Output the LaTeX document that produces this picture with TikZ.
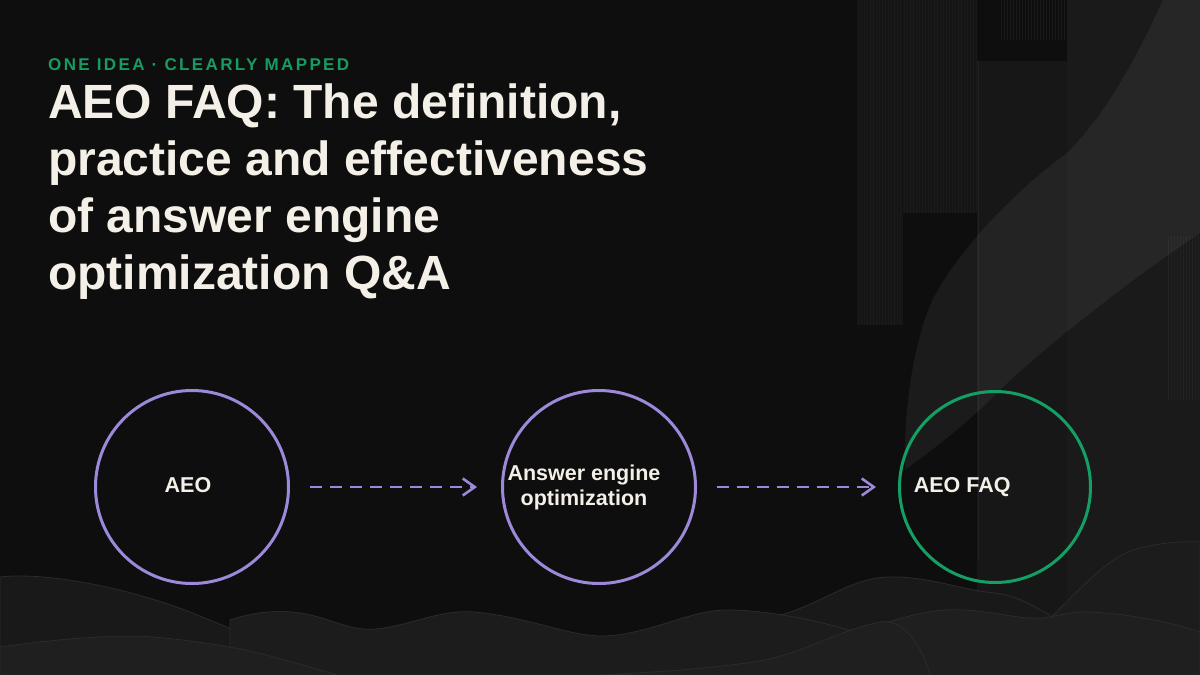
\documentclass[tikz,border=0pt]{standalone}
\usepackage{fontspec}
\setmainfont{Liberation Sans}
\usetikzlibrary{arrows.meta}
\definecolor{bgc}{HTML}{0E0E0E}
\definecolor{cream}{HTML}{F4F0E8}
\definecolor{kgreen}{HTML}{169C63}
\definecolor{cgreen}{HTML}{14A064}
\definecolor{purp}{HTML}{9D89DA}
\definecolor{hillA}{HTML}{191919}
\definecolor{hillB}{HTML}{1C1C1C}
\definecolor{hillC}{HTML}{1F1F1F}
\definecolor{hedge}{HTML}{2B2B2B}
\definecolor{stripeC}{HTML}{1A1A1A}
\tikzset{
  ring/.style={circle, draw=purp, line width=3pt, minimum size=193pt, inner sep=0pt},
  ringg/.style={circle, draw=cgreen, line width=3pt, minimum size=191pt, inner sep=0pt},
  clabel/.style={text=cream, font=\bfseries\fontsize{21.5}{25}\selectfont, inner sep=0pt},
  flow/.style={draw=purp, line width=2.8pt, dash pattern=on 12pt off 8pt, -{Straight Barb[length=12pt,width=17pt,line width=2.6pt]}},
  hilledge/.style={draw=hedge, line width=0.8pt},
  titlefont/.style={text=cream, font=\bfseries\fontsize{48}{57}\selectfont, inner sep=0pt, anchor=base west},
}
\begin{document}
\begin{tikzpicture}[x=1pt,y=-1pt]
\useasboundingbox (0,0) rectangle (1200,675);
\fill[bgc] (0,0) rectangle (1200,675);
% right decoration
\fill[fill=stripeC!60!bgc] (857,0) rectangle (903,325);
\fill[fill=stripeC!60!bgc] (903,0) rectangle (977,213);
\foreach \x in {858,861,...,902} \draw[stripeC, line width=0.5pt] (\x,0) -- (\x,325);
\foreach \x in {904,907,...,976} \draw[stripeC, line width=0.5pt] (\x,0) -- (\x,213);
\foreach \x in {1001,1004,...,1065} \draw[stripeC, line width=0.5pt] (\x,0) -- (\x,40);
\fill[fill=stripeC!75!bgc] (977,61) rectangle (1067,675);
\draw[hedge!70!bgc, line width=0.6pt] (978,61) -- (978,560);
\fill[fill=stripeC] (1067,0) rectangle (1200,675);
\fill[fill=white, fill opacity=0.055] (1163,0) -- (1200,0) -- (1200,233)
  .. controls (1130,280) and (1040,350) .. (995,395)
  .. controls (960,430) and (925,455) .. (905,470)
  .. controls (903,420) and (912,340) .. (935,295)
  .. controls (960,250) and (1010,195) .. (1067,153)
  .. controls (1110,110) and (1140,50) .. (1163,0) -- cycle;
\foreach \x in {1168,1171,...,1198} \draw[white, line width=0.5pt, opacity=0.04] (\x,236) -- (\x,400);
% hills (back to front)
\filldraw[fill=hillA, hilledge] (0,577) .. controls (40,572) and (120,585) .. (190,612)
  .. controls (260,640) and (300,660) .. (344,675) -- (0,675) -- cycle;
\filldraw[fill=hillA, hilledge] (780,675) -- (780,615) .. controls (820,605) and (850,578) .. (888,577)
  .. controls (930,576) and (960,590) .. (995,593) .. controls (1020,596) and (1035,608) .. (1050,615) -- (1050,675) -- cycle;
\filldraw[fill=hillB, hilledge] (1040,675) -- (1050,618) .. controls (1080,590) and (1105,560) .. (1133,550)
  .. controls (1160,542) and (1185,541) .. (1200,542) -- (1200,675) -- cycle;
\filldraw[fill=hillB, hilledge] (230,675) -- (230,620) .. controls (260,610) and (285,610) .. (306,614)
  .. controls (335,620) and (350,631) .. (375,629) .. controls (410,626) and (440,609) .. (474,612)
  .. controls (530,617) and (570,637) .. (605,636) .. controls (650,634) and (690,610) .. (727,610)
  .. controls (770,610) and (830,622) .. (880,640) -- (880,675) -- cycle;
\filldraw[fill=hillC, hilledge] (850,675) -- (865,630) .. controls (900,618) and (930,608) .. (964,610)
  .. controls (1000,612) and (1020,620) .. (1045,618) .. controls (1060,615) and (1075,611) .. (1090,612)
  .. controls (1130,614) and (1170,622) .. (1200,632) -- (1200,675) -- cycle;
\filldraw[fill=hillC, hilledge] (0,647) .. controls (50,640) and (110,634) .. (153,637)
  .. controls (200,641) and (240,648) .. (270,656) .. controls (300,664) and (320,670) .. (337,675) -- (0,675) -- cycle;
\filldraw[fill=hillC, hilledge] (600,675) .. controls (660,672) and (720,668) .. (765,660)
  .. controls (810,650) and (840,630) .. (880,622) .. controls (900,618) and (920,640) .. (930,675) -- cycle;
% text
\node[anchor=base west, inner sep=0pt, text=kgreen, font=\bfseries\addfontfeatures{LetterSpace=14}\fontsize{17}{20}\selectfont] (kicker) at (48,70) {ONE IDEA · CLEARLY MAPPED};
\node[titlefont] (t1) at (48,118) {AEO FAQ: The definition,};
\node[titlefont] (t2) at (48,175) {practice and effectiveness};
\node[titlefont] (t3) at (48,232) {of answer engine};
\node[titlefont] (t4) at (48,289) {optimization Q\&A};
% diagram
\node[ring] (c1) at (192,487) {};
\node[ring] (c2) at (599,487) {};
\node[ringg] (c3) at (995,487) {};
\node[clabel, anchor=base] (l1) at (188,492.7) {AEO};
\node[clabel, anchor=base] (l2a) at (584,480) {Answer engine};
\node[clabel, anchor=base] (l2b) at (584,505) {optimization};
\node[clabel, anchor=base west] (l3) at (913.6,492.7) {AEO FAQ};
\draw[flow, shorten <=20pt, shorten >=24pt] (c1.east) -- (c2.west);
\draw[flow, shorten <=20pt, shorten >=22pt] (c2.east) -- (c3.west);
\end{tikzpicture}
\end{document}
